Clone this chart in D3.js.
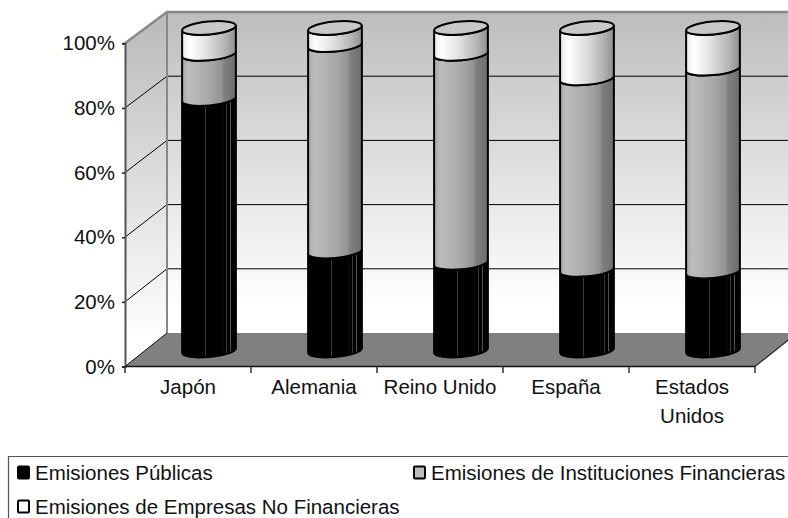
<!DOCTYPE html>
<meta charset="utf-8">
<style>
  body { margin: 0; background: #fff; }
  text { font-family: "Liberation Sans", Arial, sans-serif; font-size: 20.5px; fill: #111; }
</style>
<script src="https://d3js.org/d3.v7.min.js"></script>
<div id="chart"></div>
<script>
// values, in percent of the total
var paises = ["Japón", "Alemania", "Reino Unido", "España", "Estados Unidos"];
var publicas = [78, 30.7, 27.2, 25, 24.5];
var instituciones = [14, 64, 64.8, 59.4, 62.9];
var empresas = [8, 5.3, 8, 15.6, 12.6];
var nombres = ["Emisiones Públicas", "Emisiones de Instituciones Financieras", "Emisiones de Empresas No Financieras"];
var yTicks = [0, 20, 40, 60, 80, 100];

var width = 788, height = 518;
var depthX = 42, depthY = -33;   // offset of the back wall

var svg = d3.select("#chart").append("svg")
  .attr("width", width).attr("height", height)
  .style("display", "block");

var defs = svg.append("defs");

// scales: front plane, back wall, and the plane the cylinders stand on
var x = d3.scaleBand().domain(paises).range([125, 755]);
var yFront = d3.scaleLinear().domain([0, 100]).range([366.5, 43.3]);
var yBack = d3.scaleLinear().domain([0, 100]).range([333, 12]);
var yBar = d3.scaleLinear().domain([0, 100]).range([350.5, 28]);

// gradients
function wallGradient(id, y1, y2) {
  var g = defs.append("linearGradient").attr("id", id)
    .attr("gradientUnits", "userSpaceOnUse")
    .attr("x1", 0).attr("x2", 0).attr("y1", y1).attr("y2", y2);
  g.append("stop").attr("offset", 0).attr("stop-color", "#bdbdbd");
  g.append("stop").attr("offset", 1).attr("stop-color", "#ffffff");
}
wallGradient("wall", 12, 305);
wallGradient("side", 30, 340);

function barGradient(id, stops) {
  var g = defs.append("linearGradient").attr("id", id);
  stops.forEach(function(s) {
    g.append("stop").attr("offset", s[0]).attr("stop-color", s[1]);
  });
}
barGradient("g0", [[0, "#000"], [.085, "#000"], [.09, "#777"], [.1, "#000"], [.43, "#000"], [.44, "#777"], [.45, "#000"],
  [.75, "#000"], [.76, "#666"], [.77, "#000"], [.82, "#000"], [.83, "#666"], [.84, "#000"], [.89, "#000"], [.9, "#555"], [.91, "#000"], [1, "#000"]]);
barGradient("g1", [[0, "#a8a8a8"], [.12, "#bcbcbc"], [.5, "#a9a9a9"], [.74, "#939393"], [.78, "#808080"], [1, "#6c6c6c"]]);
barGradient("g2", [[0, "#e6e6e6"], [.14, "#ffffff"], [.5, "#dcdcdc"], [.8, "#b4b4b4"], [1, "#8e8e8e"]]);

// walls and floor
var f = yFront(0), b = yBack(0), fT = yFront(100), bT = yBack(100);
svg.append("path").attr("fill", "url(#side)")
  .attr("d", d3.line()([[125, f], [125 + depthX, b], [125 + depthX, bT], [125, fT]]));
svg.append("rect").attr("x", 125 + depthX).attr("y", bT)
  .attr("width", width).attr("height", b - bT).attr("fill", "url(#wall)");
svg.append("path").attr("fill", "#808080")
  .attr("d", d3.line()([[125, f], [125 + depthX, b], [755 + depthX, b], [755, f]]));

// gridlines along the side wall and back wall
var grid = svg.append("g").attr("stroke", "#000").attr("stroke-width", 1).attr("fill", "none");
yTicks.slice(1, -1).forEach(function(t) {
  grid.append("path").attr("d", d3.line()([[125, yFront(t)], [125 + depthX, yBack(t)], [width, yBack(t)]]));
});

// wall border
svg.append("path").attr("fill", "none").attr("stroke", "#888").attr("stroke-width", 2.5)
  .attr("d", d3.line()([[125, fT], [125 + depthX, bT], [width, bT]]));
svg.append("path").attr("fill", "none").attr("stroke", "#888").attr("stroke-width", 2)
  .attr("d", d3.line()([[125 + depthX, bT], [125 + depthX, b]]));
svg.append("path").attr("fill", "none").attr("stroke", "#111").attr("stroke-width", 1)
  .attr("d", d3.line()([[125, f], [125 + depthX, b]]));
svg.append("path").attr("fill", "none").attr("stroke", "#222").attr("stroke-width", 1.2)
  .attr("d", d3.line()([[755, f], [755 + depthX, b]]));

// axes
var yAxis = svg.append("g").attr("transform", "translate(125,0)")
  .call(d3.axisLeft(yFront).tickValues(yTicks).tickSize(3).tickPadding(7).tickFormat(function(d) { return d + "%"; }));
yAxis.select(".domain").attr("stroke", "#555").attr("stroke-width", 2);
yAxis.selectAll("line").attr("stroke", "#222").attr("stroke-width", 1.5);
yAxis.selectAll("text").style("font-size", "20.5px");

var xAxis = svg.append("g").attr("transform", "translate(0," + f + ")")
  .call(d3.axisBottom(x).tickSize(0).tickPadding(13));
xAxis.select(".domain").remove();
xAxis.selectAll("text").style("font-size", "20.5px")
  .each(function(d) {
    if (d !== "Estados Unidos") return;
    var t = d3.select(this), dy = t.attr("dy"), px = t.attr("x") || 0;
    t.text(null);
    t.append("tspan").attr("x", px).attr("dy", dy).text("Estados");
    t.append("tspan").attr("x", px).attr("dy", "1.4em").text("Unidos");
  });
svg.append("line").attr("x1", 125).attr("x2", 755).attr("y1", f).attr("y2", f)
  .attr("stroke", "#111").attr("stroke-width", 1.5);
svg.append("g").selectAll("line").data(d3.range(paises.length + 1)).join("line")
  .attr("x1", function(i) { return 125 + i * x.bandwidth(); })
  .attr("x2", function(i) { return 125 + i * x.bandwidth(); })
  .attr("y1", f).attr("y2", f + 6.5)
  .attr("stroke", "#333").attr("stroke-width", 1.5);

// stacked cylinders
var filas = paises.map(function(p, i) {
  return { pais: p, a: publicas[i], b: instituciones[i], c: empresas[i] };
});
var stack = d3.stack().keys(["a", "b", "c"])(filas);

var rx = 27, ry = 6.5, tilt = -5.3, rad = tilt * Math.PI / 180;
var ex = rx * Math.cos(rad), ey = rx * Math.sin(rad);
function cx(p) { return x(p) + x.bandwidth() / 2 + depthX / 2; }

function segmento(p, v0, v1) {
  var c = cx(p), y0 = yBar(v0), y1 = yBar(v1);
  return "M" + (c - ex) + "," + (y0 - ey) +
    "A" + rx + "," + ry + " " + tilt + " 0 0 " + (c + ex) + "," + (y0 + ey) +
    "L" + (c + ex) + "," + (y1 + ey) +
    "A" + rx + "," + ry + " " + tilt + " 0 1 " + (c - ex) + "," + (y1 - ey) + "Z";
}

stack.forEach(function(serie, k) {
  svg.append("g").selectAll("path").data(serie).join("path")
    .attr("d", function(d) { return segmento(d.data.pais, d[0], d[1]); })
    .attr("fill", "url(#g" + k + ")")
    .attr("stroke", "#000").attr("stroke-width", 2);
});
svg.append("g").selectAll("ellipse").data(paises).join("ellipse")
  .attr("transform", function(p) { return "translate(" + cx(p) + "," + yBar(100) + ") rotate(" + tilt + ")"; })
  .attr("rx", rx).attr("ry", ry)
  .attr("fill", "#c8c8c8").attr("stroke", "#000").attr("stroke-width", 2);

// legend
var legend = svg.append("g");
legend.append("path").attr("fill", "none").attr("stroke", "#555").attr("stroke-width", 1.2)
  .attr("d", d3.line()([[8.5, height + 2], [8.5, 456.5], [width + 2, 456.5]]));
var legendX = [18, 414, 18], legendY = [473, 473, 507], legendFill = ["#000", "#bdbdbd", "#fff"];
nombres.forEach(function(n, i) {
  legend.append("rect").attr("x", legendX[i]).attr("y", legendY[i] - 6.5)
    .attr("width", 11).attr("height", 12).attr("rx", 1)
    .attr("fill", legendFill[i]).attr("stroke", "#000").attr("stroke-width", 2);
  legend.append("text").attr("x", legendX[i] + 17).attr("y", legendY[i] + 7)
    .style("font-size", "20.5px").text(n);
});
</script>
